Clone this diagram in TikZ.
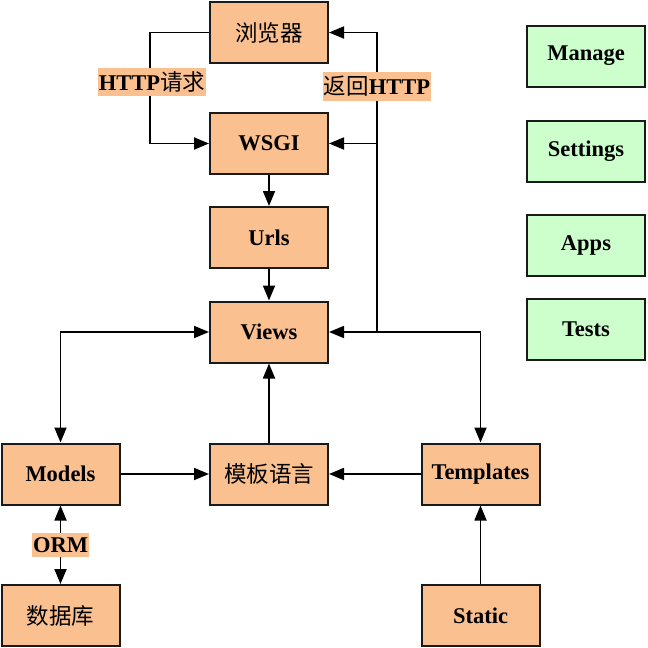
\documentclass[tikz,border=0pt]{standalone}
\usepackage{fontspec}
\setmainfont{Liberation Serif}
\newfontfamily\cjk{Noto Sans CJK SC}
\usetikzlibrary{arrows.meta,calc}
\definecolor{peach}{HTML}{FAC090}
\definecolor{mint}{HTML}{CCFFCC}
\definecolor{edge}{HTML}{1A1A1A}
\begin{document}
\begin{tikzpicture}[x=1pt,y=-1pt,
  box/.style={draw=edge,line width=2pt,fill=peach,minimum width=118pt,minimum height=61pt,inner sep=0pt,font=\fontsize{22.5}{26}\selectfont\bfseries},
  cbox/.style={box,font=\fontsize{22.5}{26}\selectfont\cjk},
  gbox/.style={box,fill=mint},
  lab/.style={fill=peach,inner xsep=1pt,inner ysep=4pt,font=\fontsize{22.5}{26}\selectfont\bfseries},
  conn/.style={line width=1.8pt,draw=black},
  arr/.style={conn,-{Triangle[length=15pt,width=12pt]}},
  barr/.style={conn,{Triangle[length=15pt,width=12pt]}-{Triangle[length=15pt,width=12pt]}}]
\useasboundingbox (0,0) rectangle (648,648);
% nodes
\node[cbox] (browser) at (269,32.5) {浏览器};
\node[box] (wsgi) at (269,143.5) {WSGI};
\node[box] (urls) at (269,237.5) {Urls};
\node[box] (views) at (269,332) {Views};
\node[box] (models) at (60.5,474) {Models};
\node[cbox] (tmpl) at (269,474) {模板语言};
\node[box] (templates) at (480.5,474) {Templates};
\node[cbox] (db) at (60.5,615.5) {数据库};
\node[box] (static) at (480.5,615.5) {Static};
\node[gbox] (manage) at (586,56) {Manage};
\node[gbox] (settings) at (586,151) {Settings};
\node[gbox] (apps) at (586,245) {Apps};
\node[gbox] (tests) at (586,329) {Tests};
% coordinates
\coordinate (hl) at (150,143.5);
\coordinate (rj) at (377,332);
% connectors
\draw[arr] (browser.west) -| (hl) -- (wsgi.west);
\draw[arr] (rj) |- (browser.east);
\draw[arr] (rj) |- (wsgi.east);
\draw[barr] (templates.north) |- (views.east);
\draw[barr] (models.north) |- (views.west);
\draw[arr] (wsgi) -- (urls);
\draw[arr] (urls) -- (views);
\draw[arr] (tmpl) -- (views);
\draw[arr] (models) -- (tmpl);
\draw[arr] (templates) -- (tmpl);
\draw[arr] (static) -- (templates);
\draw[barr] (models) -- (db);
% labels
\node[lab] (lreq) at (152,82) {HTTP{\cjk\mdseries 请求}};
\node[lab] (lret) at (377,86.5) {{\cjk\mdseries 返回}HTTP};
\node[lab] (lorm) at (60.5,545) {ORM};
\end{tikzpicture}
\end{document}
